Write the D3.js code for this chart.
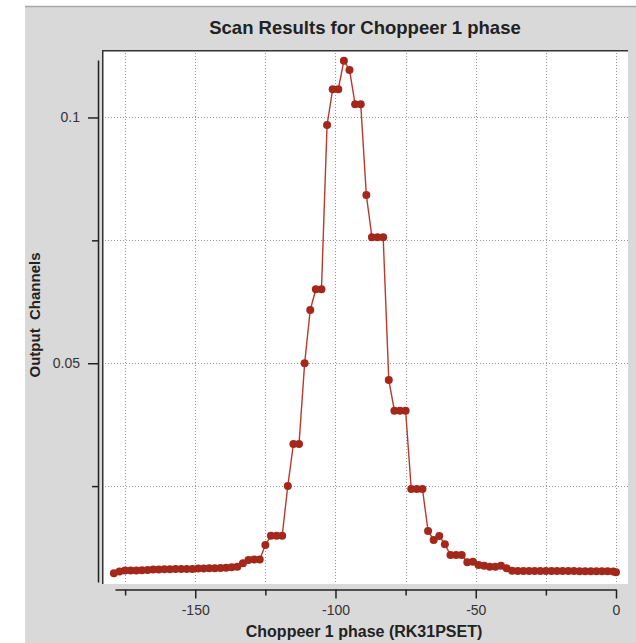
<!DOCTYPE html>
<html><head><meta charset="utf-8">
<script src="https://cdn.jsdelivr.net/npm/d3@7"></script>
<style>body{margin:0;background:#fff}svg{display:block}</style>
</head><body>
<svg id="chart" width="636" height="643"></svg>
<script>
const titleText = "Scan Results for Choppeer 1 phase";
const xLabelText = "Choppeer 1 phase (RK31PSET)";
const yLabelText = "Output  Channels";

const phase = [-179,-177,-175,-173,-171,-169,-167,-165,-163,-161,-159,-157,-155,-153,-151,-149,-147,-145,-143,-141,
  -139,-137,-135,-133,-131,-129,-127,-125,-123,-121,-119,-117,-115,-113,-111,-109,-107,-105,-103,-101,
  -99,-97,-95,-93,-91,-89,-87,-85,-83,-81,-79,-77,-75,-73,-71,-69,-67,-65,-63,-61,
  -59,-57,-55,-53,-51,-49,-47,-45,-43,-41,-39,-37,-35,-33,-31,-29,-27,-25,-23,-21,
  -19,-17,-15,-13,-11,-9,-7,-5,-3,-1,0];
const output = [0.00726,0.00763,0.00783,0.00783,0.00783,0.00787,0.00793,0.00804,0.00804,0.00808,
  0.00808,0.00814,0.00814,0.00814,0.00814,0.00824,0.00824,0.00828,0.00828,0.00834,
  0.00840,0.00848,0.00861,0.00930,0.00997,0.01007,0.01007,0.01302,0.01490,0.01490,
  0.01490,0.02503,0.03357,0.03357,0.04997,0.06083,0.06504,0.06504,0.09847,0.10574,
  0.10574,0.11155,0.10966,0.10269,0.10269,0.08423,0.07563,0.07563,0.07563,0.04659,
  0.04035,0.04035,0.04035,0.02441,0.02441,0.02441,0.01587,0.01404,0.01485,0.01316,
  0.01099,0.01099,0.01099,0.00951,0.00962,0.00895,0.00881,0.00861,0.00861,0.00881,
  0.00828,0.00779,0.00773,0.00773,0.00773,0.00773,0.00773,0.00773,0.00773,0.00773,
  0.00773,0.00773,0.00773,0.00770,0.00770,0.00768,0.00768,0.00766,0.00766,0.00763,0.00747];

const xMajorTicks = [-150,-100,-50,0];
const xMajorLabels = ["-150","-100","-50","0"];
const xMinorTicks = [-175,-125,-75,-25];
const yMajorTicks = [0.05,0.1];
const yMajorLabels = ["0.05","0.1"];
const yMinorTicks = [0.025,0.075];
const xGrid = [-175,-150,-125,-100,-75,-50,-25,0];
const yGrid = [0.025,0.05,0.075,0.1];

const svg = d3.select("#chart");
const FONT = "'Liberation Sans', Arial, sans-serif";
const INK = "#222";

// panel background
svg.append("rect").attr("x",25).attr("y",6).attr("width",611).attr("height",637).attr("fill","#d9d9d9");
svg.append("line").attr("x1",25).attr("x2",636).attr("y1",6.5).attr("y2",6.5).attr("stroke","#a8a8a8").attr("stroke-width",1.5);

// plot frame
const frame = {x:102, y:50, w:526, h:534};
svg.append("rect").attr("x",frame.x).attr("y",frame.y).attr("width",frame.w).attr("height",frame.h).attr("fill","#fff");

const x = d3.scaleLinear().domain([-178.6,0]).range([115,616]);
const y = d3.scaleLinear().domain([0.00549,0.11169]).range([582,60]);

// grid
const g = svg.append("g");
g.selectAll(".vg").data(xGrid).join("line")
  .attr("x1",d=>Math.round(x(d))+0.5).attr("x2",d=>Math.round(x(d))+0.5)
  .attr("y1",frame.y).attr("y2",frame.y+frame.h)
  .attr("stroke","#959595").attr("stroke-width",1).attr("stroke-dasharray","1,2");
g.selectAll(".hg").data(yGrid).join("line")
  .attr("y1",d=>Math.round(y(d))+0.5).attr("y2",d=>Math.round(y(d))+0.5)
  .attr("x1",frame.x).attr("x2",frame.x+frame.w)
  .attr("stroke","#959595").attr("stroke-width",1).attr("stroke-dasharray","1,2");

// frame borders (top/left dark)
svg.append("line").attr("x1",frame.x).attr("x2",frame.x+frame.w).attr("y1",frame.y+0.75).attr("y2",frame.y+0.75).attr("stroke","#333").attr("stroke-width",1.5);
svg.append("line").attr("x1",frame.x+0.75).attr("x2",frame.x+0.75).attr("y1",frame.y).attr("y2",frame.y+frame.h).attr("stroke","#333").attr("stroke-width",1.5);

// data line + points
svg.append("path").datum(phase.map((p,i)=>[p,output[i]]))
  .attr("fill","none").attr("stroke","#b83a2e").attr("stroke-width",1.4)
  .attr("d",d3.line().x(d=>x(d[0])).y(d=>y(d[1])));
svg.append("g").selectAll("circle").data(phase.map((p,i)=>[p,output[i]])).join("circle")
  .attr("cx",d=>x(d[0])).attr("cy",d=>y(d[1])).attr("r",4).attr("fill","#a3281b");

// x axis
const xAxisG = svg.append("g").attr("transform","translate(0,589.5)");
xAxisG.call(d3.axisBottom(x).tickValues(xMajorTicks).tickSize(9).tickSizeOuter(0).tickPadding(7)
  .tickFormat((d,i)=>xMajorLabels[i]));
xAxisG.append("g").call(d3.axisBottom(x).tickValues(xMinorTicks).tickSize(6).tickSizeOuter(0).tickFormat(""))
  .select(".domain").remove();
// y axis
const yAxisG = svg.append("g").attr("transform","translate(98,0)");
yAxisG.call(d3.axisLeft(y).tickValues(yMajorTicks).tickSize(10).tickSizeOuter(0).tickPadding(8)
  .tickFormat((d,i)=>yMajorLabels[i]));
yAxisG.append("g").call(d3.axisLeft(y).tickValues(yMinorTicks).tickSize(6).tickSizeOuter(0).tickFormat(""))
  .select(".domain").remove();

svg.selectAll(".domain").attr("stroke",INK).attr("stroke-width",1.5);
svg.selectAll(".tick line").attr("stroke",INK).attr("stroke-width",1.5);
svg.selectAll(".tick text").attr("font-family",FONT).attr("font-size",14).attr("fill","#333");

// titles
svg.append("text").attr("x",365).attr("y",34).attr("text-anchor","middle")
  .attr("font-family",FONT).attr("font-weight","bold").attr("font-size",18.5).attr("fill",INK).text(titleText);
svg.append("text").attr("x",364).attr("y",637).attr("text-anchor","middle")
  .attr("font-family",FONT).attr("font-weight","bold").attr("font-size",16).attr("fill",INK).text(xLabelText);
svg.append("text").attr("transform","translate(40,315) rotate(-90)").attr("text-anchor","middle")
  .attr("font-family",FONT).attr("font-weight","bold").attr("font-size",15).attr("fill",INK)
  .style("white-space","pre").text(yLabelText);
</script>
</body></html>
